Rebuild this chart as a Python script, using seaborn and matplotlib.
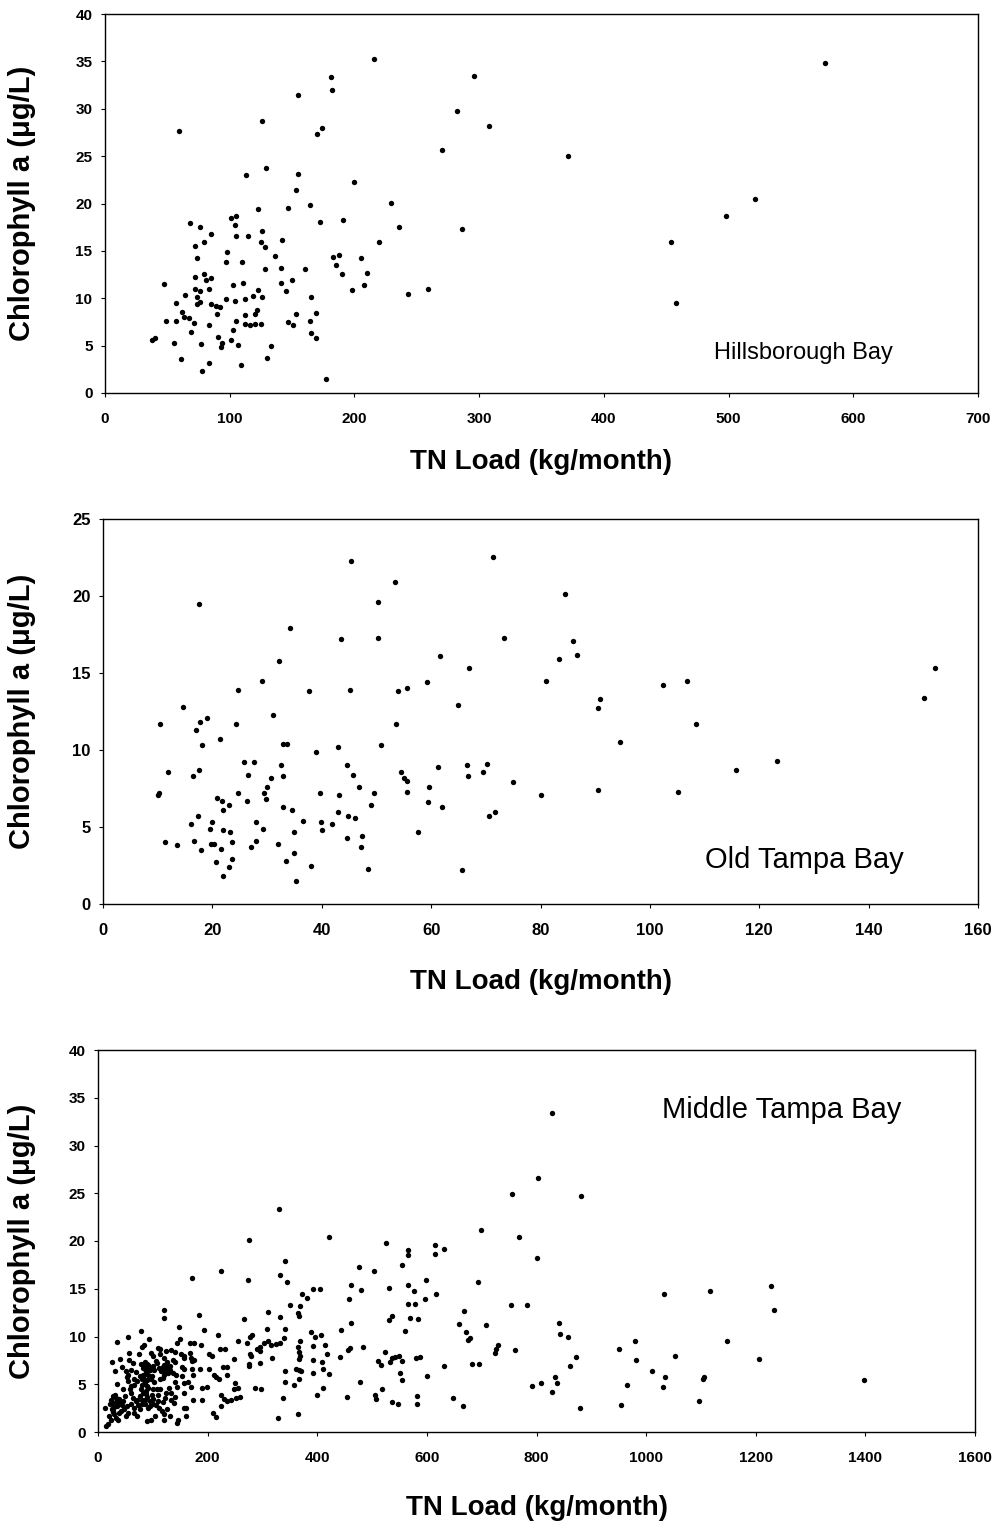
import matplotlib
matplotlib.use("Agg")
import matplotlib.pyplot as plt
import seaborn as sns
import pandas as pd

# Hillsborough Bay
hb_load = [216, 181, 182, 155, 59, 126, 174, 170, 129, 113, 155, 200, 153, 229, 164, 123, 147, 236, 172, 191,
           68, 76, 101, 105, 104, 85, 105, 115, 126, 79, 72, 125, 142, 128, 220, 98, 74, 97, 110, 136,
           183, 188, 185, 205, 128, 141, 160, 190, 210, 79, 72, 85, 81, 47, 103, 111, 141, 150, 145, 72,
           76, 83, 123, 198, 208, 243, 259, 64, 74, 97, 104, 112, 119, 126, 165, 57, 74, 76, 85, 89,
           92, 62, 63, 67, 90, 122, 112, 120, 153, 169, 49, 57, 71, 83, 105, 112, 116, 120, 125, 147,
           151, 164, 69, 103, 165, 169, 38, 40, 55, 91, 94, 93, 77, 101, 107, 133, 61, 83, 130, 109,
           78, 177, 577, 296, 282, 308, 270, 371, 521, 498, 286, 454, 458]
hb_chla = [35.3, 33.3, 32.0, 31.5, 27.7, 28.7, 28.0, 27.3, 23.7, 23.0, 23.1, 22.3, 21.4, 20.1, 19.8, 19.4, 19.5, 17.5, 18.1, 18.3,
           17.9, 17.5, 18.5, 18.7, 17.7, 16.8, 16.6, 16.6, 17.1, 15.9, 15.5, 15.9, 16.1, 15.4, 15.9, 14.9, 14.3, 13.8, 13.8, 14.5,
           14.4, 14.6, 13.5, 14.2, 13.1, 13.2, 13.1, 12.6, 12.7, 12.6, 12.2, 12.1, 11.9, 11.5, 11.4, 11.6, 11.6, 11.9, 10.8, 11.0,
           10.8, 11.0, 10.9, 10.9, 11.4, 10.5, 11.0, 10.3, 10.1, 9.9, 9.7, 9.9, 10.2, 10.1, 10.1, 9.5, 9.4, 9.6, 9.4, 9.2,
           9.1, 8.6, 8.0, 7.9, 8.3, 8.8, 8.2, 8.3, 8.3, 8.4, 7.6, 7.6, 7.4, 7.2, 7.6, 7.3, 7.2, 7.3, 7.3, 7.5,
           7.2, 7.6, 6.4, 6.7, 6.3, 5.8, 5.6, 5.8, 5.3, 5.9, 5.3, 4.9, 5.2, 5.6, 5.1, 5.0, 3.6, 3.2, 3.7, 3.0,
           2.3, 1.5, 34.8, 33.5, 29.8, 28.2, 25.6, 25.0, 20.5, 18.7, 17.3, 15.9, 9.5]

# Old Tampa Bay
ot_load = [45.3, 53.4, 17.6, 50.2, 34.2, 43.6, 50.2, 32.2, 29.0, 24.6, 37.6, 45.1, 54.0, 55.6, 14.7, 10.5, 17.7, 19.1, 17.0, 24.4,
           31.1, 53.6, 18.1, 21.4, 33.0, 33.6, 43.0, 50.8, 38.9, 25.8, 27.6, 44.7, 32.5, 11.8, 16.4, 17.5, 26.5, 33.0, 45.8, 30.8,
           54.4, 55.0, 55.6, 10.1, 10.3, 24.7, 29.5, 29.8, 30.0, 46.8, 39.7, 43.1, 49.5, 55.6, 20.9, 21.8, 26.3, 49.0, 23.0, 21.9,
           33.0, 34.5, 43.0, 17.3, 44.8, 46.0, 36.6, 16.0, 20.0, 19.5, 27.9, 29.2, 39.8, 40.1, 41.9, 21.9, 23.3, 35.0, 57.6, 11.3,
           13.6, 16.6, 17.9, 19.7, 20.3, 21.6, 23.5, 27.0, 28.0, 32.0, 44.7, 47.4, 47.2, 20.7, 23.5, 23.0, 33.5, 35.0, 38.1, 48.4,
           22.0, 35.3, 71.3, 84.5, 73.3, 85.9, 86.7, 83.3, 61.6, 67.0, 59.3, 81.0, 102.4, 106.7, 152.1, 150.1, 64.9, 90.5, 90.9, 108.4,
           94.6, 123.2, 115.7, 61.3, 66.5, 66.8, 69.5, 70.3, 75.0, 80.0, 90.6, 105.2, 59.6, 59.4, 62.0, 70.5, 71.6, 65.6]
ot_chla = [22.3, 20.9, 19.5, 19.6, 17.9, 17.2, 17.3, 15.8, 14.5, 13.9, 13.8, 13.9, 13.8, 14.0, 12.8, 11.7, 11.8, 12.1, 11.3, 11.7,
           12.3, 11.7, 10.3, 10.7, 10.4, 10.4, 10.2, 10.3, 9.9, 9.2, 9.2, 9.0, 9.0, 8.6, 8.3, 8.7, 8.4, 8.3, 8.4, 8.2,
           8.6, 8.2, 8.0, 7.1, 7.2, 7.2, 7.2, 6.8, 7.6, 7.6, 7.2, 7.1, 7.2, 7.3, 6.9, 6.7, 6.7, 6.4, 6.4, 6.1,
           6.3, 6.1, 6.0, 5.7, 5.7, 5.6, 5.4, 5.2, 5.3, 4.9, 5.3, 4.9, 5.3, 4.8, 5.2, 4.8, 4.7, 4.7, 4.7, 4.0,
           3.8, 4.1, 3.5, 3.9, 3.9, 3.6, 4.0, 3.7, 4.1, 3.9, 4.3, 4.4, 3.7, 2.7, 2.9, 2.4, 2.8, 3.3, 2.5, 2.3,
           1.8, 1.5, 22.5, 20.1, 17.3, 17.1, 16.2, 15.9, 16.1, 15.3, 14.4, 14.5, 14.2, 14.5, 15.3, 13.4, 12.9, 12.7, 13.3, 11.7,
           10.5, 9.3, 8.7, 8.9, 9.0, 8.3, 8.6, 9.1, 7.9, 7.1, 7.4, 7.3, 7.6, 6.6, 6.3, 5.7, 6.0, 2.2]

# Middle Tampa Bay
mt_load = [330, 275, 422, 341, 332, 344, 274, 225, 171, 392, 405, 372, 381, 351, 368, 310, 121, 120, 184, 266,
           332, 364, 367, 147, 79, 193, 309, 342, 388, 407, 55, 34, 93, 84, 80, 150, 219, 395, 339, 281,
           278, 255, 271, 167, 175, 188, 144, 369, 392, 414, 311, 316, 325, 332, 302, 295, 290, 296, 365, 366,
           418, 109, 114, 124, 134, 140, 96, 74, 57, 41, 26, 152, 157, 167, 170, 176, 172, 156, 203, 208,
           223, 231, 248, 277, 279, 317, 366, 369, 409, 392, 120, 106, 137, 140, 90, 82, 87, 93, 77, 51,
           54, 31, 52, 65, 60, 124, 123, 131, 136, 120, 118, 113, 103, 92, 96, 85, 81, 154, 157, 154,
           171, 187, 203, 211, 215, 220, 228, 236, 235, 174, 140, 144, 156, 165, 189, 199, 250, 249, 255, 286,
           298, 275, 276, 295, 341, 361, 366, 371, 367, 342, 358, 392, 410, 422, 410, 400, 338, 225, 229, 236,
           243, 252, 259, 225, 209, 215, 190, 173, 156, 161, 146, 145, 329, 364,
           13, 19.5, 22, 24, 28, 32, 35, 38.5, 41.5, 45, 49, 52.5, 32, 37, 46, 34, 30.5, 61, 63, 66,
           70, 73, 77, 81, 83, 85.5, 89, 92, 95, 98, 101, 90, 96.5, 104, 112, 118, 122, 126, 121, 133,
           139, 140, 78, 81, 84, 87, 90, 99.5, 103, 107, 110, 113.5, 124, 130, 134, 59, 61, 66, 71, 54,
           83, 86, 89, 78, 99.5, 98, 112, 115, 118, 127, 142, 157.5, 170, 160.5, 131, 121, 72, 66, 54, 51,
           25.6, 28, 19, 15, 24,
           84, 86, 88, 92, 95, 82, 90, 92, 88, 121, 124, 128, 131, 126, 26, 29, 33, 38, 43, 47,
           30, 36, 27, 40, 72, 76, 80, 86, 94, 100, 106, 110, 116, 60, 64, 70, 44, 56, 100, 108, 113,
           828, 803, 756, 881, 699, 768, 800, 526, 565, 566, 615, 615, 632, 476, 503, 555, 462, 479, 530, 566,
           577, 599, 693, 458, 565, 579, 597, 617, 754, 782, 1032, 462, 530, 537, 569, 583, 667, 561, 658, 671,
           708, 841, 843, 858, 675, 678, 443, 457, 459, 483, 441, 523, 510, 516, 533, 537, 542, 549, 554, 581,
           587, 551, 554, 478, 518, 506, 507, 454, 536, 547, 582, 582, 601, 631, 648, 665, 683, 696, 724, 727,
           730, 760, 792, 808, 833, 838, 828, 872, 861, 879, 951, 979, 981, 1010, 966, 954, 1035, 1031,
           1117, 1228, 1233, 1147, 1052, 1206, 1105, 1103, 1096, 1397]
mt_chla = [23.3, 20.1, 20.4, 17.9, 16.4, 15.7, 15.9, 16.9, 16.1, 15.0, 15.0, 14.4, 14.0, 13.3, 13.2, 12.6, 12.8, 11.9, 12.2, 11.8,
           12.0, 12.5, 12.1, 11.0, 10.6, 10.7, 10.8, 10.8, 10.5, 10.2, 9.9, 9.4, 9.7, 9.1, 8.9, 9.7, 10.2, 9.9, 9.8, 10.2,
           10.0, 9.5, 9.3, 9.3, 9.35, 9.1, 9.3, 9.5, 9.0, 9.1, 9.5, 9.1, 9.2, 9.35, 9.35, 8.9, 8.65, 8.5, 8.9, 8.4,
           8.2, 8.8, 8.65, 8.5, 8.6, 8.4, 8.3, 8.2, 8.3, 7.6, 7.3, 8.2, 8.0, 8.3, 7.8, 7.5, 7.4, 7.8, 8.2, 8.0,
           8.7, 8.7, 7.6, 8.2, 8.0, 7.7, 7.6, 8.0, 7.3, 7.5, 7.7, 7.4, 7.5, 7.3, 7.1, 6.7, 6.4, 6.7, 5.9, 6.4,
           6.0, 6.4, 5.8, 5.5, 4.8, 6.9, 6.4, 6.5, 6.2, 6.0, 5.7, 5.5, 6.5, 6.0, 5.5, 5.2, 5.5, 6.8, 6.6, 5.9,
           6.6, 6.6, 6.6, 6.0, 5.8, 5.6, 6.8, 6.8, 6.0, 6.0, 5.2, 4.7, 5.1, 5.2, 4.6, 4.7, 5.1, 4.5, 4.6, 4.6,
           4.5, 7.1, 6.9, 7.2, 6.4, 6.6, 6.5, 6.4, 5.5, 5.2, 4.9, 6.2, 6.6, 6.1, 4.6, 3.9, 3.6, 3.9, 3.5, 3.2,
           3.4, 3.6, 3.7, 2.7, 2.0, 1.6, 3.4, 3.35, 2.5, 1.7, 1.3, 0.9, 1.5, 1.9,
           2.5, 1.7, 2.9, 3.4, 3.8, 3.1, 2.7, 3.5, 2.2, 3.2, 3.8, 2.7, 1.5, 1.3, 4.5, 5.0, 3.9, 2.9, 3.6, 2.5,
           3.2, 2.8, 3.8, 3.4, 4.1, 2.9, 3.7, 2.5, 3.2, 3.9, 2.9, 1.15, 1.25, 1.7, 2.5, 3.1, 3.6, 2.4, 1.85, 3.4,
           3.0, 3.7, 4.5, 4.9, 5.4, 4.3, 4.8, 4.5, 5.2, 4.5, 3.9, 4.5, 4.1, 4.6, 4.1, 4.5, 4.1, 4.9, 5.3, 5.3,
           6.0, 6.6, 7.0, 7.1, 6.9, 5.9, 6.7, 6.4, 6.8, 6.6, 6.0, 4.1, 4.7, 2.5, 1.7, 1.3, 1.7, 2.0, 2.0, 1.7,
           2.4, 2.1, 0.8, 0.6, 1.3,
           6.8, 7.3, 6.2, 7.0, 6.5, 5.8, 5.4, 4.6, 4.0, 7.0, 6.6, 6.2, 6.9, 7.3, 3.0, 2.6, 3.6, 2.0, 2.8, 2.4,
           1.9, 3.3, 2.2, 3.0, 3.4, 2.4, 2.9, 3.3, 2.7, 3.5, 2.8, 3.2, 2.2, 6.5, 7.2, 6.3, 6.8, 7.5, 8.0, 7.2, 8.2,
           33.4, 26.6, 24.9, 24.7, 21.2, 20.4, 18.2, 19.8, 19.1, 18.5, 19.6, 18.6, 19.2, 17.3, 16.9, 17.5, 15.4, 14.9, 15.1, 15.4,
           14.8, 15.9, 15.7, 13.9, 13.4, 13.4, 13.9, 14.4, 13.3, 13.3, 14.4, 11.4, 11.7, 12.1, 11.9, 11.8, 12.7, 10.6, 11.3, 10.5,
           11.2, 11.4, 10.3, 9.9, 9.6, 9.8, 10.7, 8.6, 8.8, 8.9, 7.9, 8.4, 7.4, 7.0, 7.3, 7.7, 7.9, 8.0, 7.4, 7.7,
           7.9, 6.2, 5.4, 5.2, 4.5, 3.9, 3.5, 3.7, 3.1, 2.9, 3.8, 2.9, 5.9, 6.9, 3.6, 2.7, 7.1, 7.1, 8.3, 8.7,
           9.1, 8.6, 4.85, 5.1, 5.8, 5.1, 4.2, 7.9, 6.9, 2.5, 8.7, 9.5, 7.5, 6.4, 4.95, 2.8, 5.8, 4.75,
           14.8, 15.3, 12.8, 9.5, 8.0, 7.6, 5.8, 5.5, 3.2, 5.4]

panels = [
    ("Hillsborough Bay", hb_load, hb_chla, 700, 100, 40),
    ("Old Tampa Bay", ot_load, ot_chla, 160, 20, 25),
    ("Middle Tampa Bay", mt_load, mt_chla, 1600, 200, 40),
]

sns.set_style("ticks")
plt.rcParams["font.family"] = ["Liberation Sans", "DejaVu Sans"]
plt.rcParams["text.color"] = "black"
plt.rcParams["axes.labelcolor"] = "black"

W, H = 997, 1528
fig = plt.figure(figsize=(W / 100, H / 100), dpi=100)
fig.patch.set_facecolor("white")

# axes boxes in pixels: left, right, top, bottom
boxes = [(105, 978, 14, 393), (103, 978, 519, 904), (98, 975, 1050, 1432)]
label_pos = [(0.5, -0.182, -0.095), (0.5, -0.203, -0.093), (0.5, -0.199, -0.087)]
name_pos = [(0.80, 0.105, 17), (0.802, 0.114, 21), (0.78, 0.843, 21)]
tick_size = [11, 12, 11]

for i, (name, xs, ys, xmax, xstep, ymax) in enumerate(panels):
    l, r, t, b = boxes[i]
    ax = fig.add_axes([l / W, 1 - b / H, (r - l) / W, (b - t) / H])
    df = pd.DataFrame({"load": xs, "chla": ys})
    sns.scatterplot(data=df, x="load", y="chla", ax=ax, color="black",
                    s=15, linewidth=0, marker="o")
    ax.set_xlim(0, xmax)
    ax.set_ylim(0, ymax)
    ax.set_xticks(range(0, xmax + 1, xstep))
    ax.set_yticks(range(0, ymax + 1, 5))
    for sp in ax.spines.values():
        sp.set_visible(True)
        sp.set_color("black")
        sp.set_linewidth(1.0)
    ax.tick_params(axis="both", direction="out", length=3, width=0.8,
                   labelsize=tick_size[i], colors="black")
    ax.tick_params(axis="x", pad=11)
    ax.tick_params(axis="y", pad=6)
    for lab in ax.get_xticklabels() + ax.get_yticklabels():
        lab.set_fontweight("bold")

    ax.set_xlabel("TN Load (kg/month)", fontsize=20, fontweight="bold", color="black")
    ax.set_ylabel("Chlorophyll a (\u03bcg/L)", fontsize=21, fontweight="bold", color="black")
    lx, ly, yx = label_pos[i]
    ax.xaxis.set_label_coords(lx, ly)
    ax.xaxis.label.set_va("center")
    ax.yaxis.set_label_coords(yx, 0.5)
    ax.yaxis.label.set_va("center")

    nx, ny, nsize = name_pos[i]
    ax.text(nx, ny, name, transform=ax.transAxes, ha="center", va="center",
            fontsize=nsize, color="black")

fig.savefig("out.png", dpi=100, facecolor="white")
